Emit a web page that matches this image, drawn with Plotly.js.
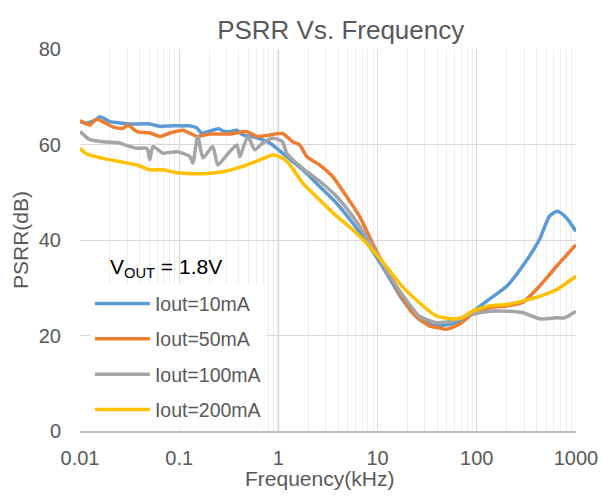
<!DOCTYPE html>
<html>
<head>
<meta charset="utf-8">
<script src="https://cdn.plot.ly/plotly-3.0.1.min.js"></script>
<style>html,body{margin:0;padding:0;background:#fff;}#chart{width:603px;height:498px;}</style>
</head>
<body>
<div id="chart"></div>
<script>
// Frequency (kHz) and PSRR (dB)
const f10 = [0.0100,0.0117,0.0147,0.0159,0.0200,0.0253,0.0318,0.0506,0.0639,0.0806,0.109,0.128,0.150,0.168,0.218,0.250,0.280,0.324,0.380,0.439,0.606,0.817,1.10,1.21,1.76,2.61,3.86,5.59,8.26,12.2,17.7,26.3,38.9,48.0,61.5,83.1,89.0,134,200,289,428,541,651,802,1000];
const p10 = [64.8,64.5,65.3,65.8,64.8,64.5,64.3,64.3,63.8,63.9,63.9,63.9,63.5,62.4,63.0,63.3,62.8,62.7,63.0,62.0,61.4,60.3,58.2,57.5,54.7,51.2,47.7,43.6,38.7,33.2,27.6,23.4,22.0,22.2,22.7,24.1,24.8,27.6,30.3,34.5,40.1,45.0,46.0,44.6,41.8];

const f50 = [0.0100,0.0126,0.0147,0.0215,0.0271,0.0304,0.0375,0.0506,0.0639,0.0806,0.109,0.151,0.204,0.324,0.480,0.606,0.817,1.10,1.39,1.64,1.93,2.61,3.52,4.87,6.56,8.85,12.2,16.6,22.4,33.2,41.7,48.9,61.5,70.8,89.0,134,200,289,428,637,1000];
const p50 = [65.0,64.1,65.3,63.7,63.4,64.1,62.7,62.4,61.7,62.4,63.0,61.7,62.2,62.2,62.7,61.7,62.0,62.3,60.6,59.9,57.5,55.7,53.3,49.1,45.0,39.4,33.8,29.0,24.8,22.0,21.6,21.3,22.0,22.7,24.4,25.8,26.2,26.9,30.3,34.5,39.0];

const f100 = [0.0100,0.0126,0.0170,0.0236,0.0318,0.0375,0.0472,0.0506,0.0544,0.0685,0.0948,0.128,0.137,0.154,0.174,0.218,0.245,0.302,0.381,0.408,0.492,0.578,0.695,0.876,1.10,1.21,1.76,2.61,3.86,5.59,8.26,12.2,17.7,26.3,38.9,56.1,70.8,89.0,134,200,289,428,637,766,1000];
const p100 = [62.7,61.0,60.6,60.4,59.6,59.2,59.2,56.8,59.6,58.2,58.5,57.5,56.1,61.7,57.2,59.6,55.7,57.8,59.9,57.5,61.7,58.9,60.3,61.3,60.6,58.2,55.0,52.3,49.1,45.0,39.7,33.8,28.6,24.1,22.7,23.0,23.8,24.4,25.1,25.1,24.8,23.5,23.7,23.7,25.1];

const f200 = [0.0100,0.0117,0.0170,0.0253,0.0375,0.0506,0.0685,0.0948,0.174,0.275,0.439,0.649,0.876,0.983,1.21,1.39,1.76,2.61,3.86,5.59,8.26,12.2,17.7,26.3,38.9,56.1,70.8,89.0,134,200,289,428,637,1000];
const p200 = [59.2,58.0,57.1,56.4,55.7,54.7,54.7,54.1,53.9,54.3,55.4,56.8,57.8,57.6,56.5,55.0,51.9,48.4,45.0,42.2,38.7,34.5,30.3,26.9,24.1,23.5,23.7,25.0,26.2,26.5,27.2,28.2,29.6,32.4];

const seriesNames = ['Iout=10mA','Iout=50mA','Iout=100mA','Iout=200mA'];
const seriesColors = ['#5B9BD5','#ED7D31','#A5A5A5','#FFC000'];
const xTickVals = [0.01,0.1,1,10,100,1000];
const xTickText = ['0.01','0.1','1','10','100','1000'];
const yTickVals = [0,20,40,60,80];

const xs = [f10,f50,f100,f200];
const ys = [p10,p50,p100,p200];

const tickFont = {family:'"Liberation Sans Narrow","Arial Narrow","Liberation Sans",Arial,sans-serif', size:20, color:'#595959'};
const textFont = {family:'"Liberation Sans",Arial,sans-serif', color:'#595959'};

const traces = xs.map((x,i)=>({
  x:x, y:ys[i], type:'scatter', mode:'lines', name:seriesNames[i],
  legendgroup:'g'+i,
  line:{color:seriesColors[i], width:3.5, shape:'spline', smoothing:0.6}
}));

const layout = {
  width:603, height:498,
  margin:{l:80, r:27, t:49, b:67},
  paper_bgcolor:'#ffffff', plot_bgcolor:'#ffffff',
  title:{text:'PSRR Vs. Frequency', font:Object.assign({}, textFont, {size:26}), x:0.565, xanchor:'center', y:0.94, yanchor:'middle'},
  xaxis:{
    type:'log', range:[-2,3], tickvals:xTickVals, ticktext:xTickText,
    showgrid:true, gridcolor:'#d9d9d9', gridwidth:1,
    minor:{dtick:'D1', showgrid:true, gridcolor:'#eeeeee', gridwidth:1, ticks:''},
    showline:true, linecolor:'#bfbfbf', linewidth:1.5, mirror:false,
    ticks:'outside', ticklen:8, tickcolor:'rgba(0,0,0,0)',
    tickfont:tickFont, zeroline:false
  },
  yaxis:{
    range:[0,80], tickvals:yTickVals,
    showgrid:true, gridcolor:'#d9d9d9', gridwidth:1,
    zeroline:false, showline:false,
    ticks:'outside', ticklen:14, tickcolor:'rgba(0,0,0,0)',
    tickfont:tickFont,
    title:{text:'PSRR(dB)', font:Object.assign({}, textFont, {size:21}), standoff:4}
  },
  shapes:[
    {type:'line', xref:'x', yref:'paper', x0:1, x1:1, y0:0, y1:1, line:{color:'#bfbfbf', width:1.5}, layer:'below'}
  ],
  annotations:[
    {text:'V<sub>OUT</sub> = 1.8V', xref:'paper', yref:'paper', x:0.056, y:0.427, xanchor:'left', yanchor:'middle', showarrow:false, font:{family:'"Liberation Sans",Arial,sans-serif', size:21, color:'#000000'}},
    {text:'Frequency(kHz)', xref:'paper', yref:'paper', x:0.482, y:-0.124, xanchor:'center', yanchor:'middle', showarrow:false, font:Object.assign({}, textFont, {size:21})}
  ],
  legend:{
    x:0.02, y:0.384, xanchor:'left', yanchor:'top',
    bgcolor:'#ffffff', borderwidth:0,
    font:Object.assign({}, textFont, {size:19.5}),
    tracegroupgap:7, itemwidth:55, traceorder:'grouped'
  },
  showlegend:true
};

Plotly.newPlot('chart', traces, layout, {displayModeBar:false, staticPlot:true});
</script>
</body>
</html>
